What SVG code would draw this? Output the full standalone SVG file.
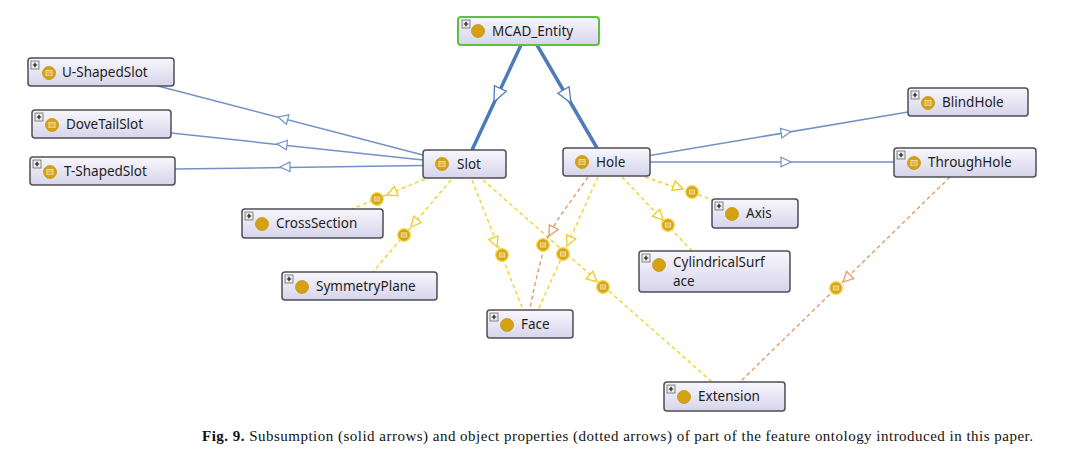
<svg xmlns="http://www.w3.org/2000/svg" xmlns:xlink="http://www.w3.org/1999/xlink" width="1067" height="465" viewBox="0 0 1067 465">
<style>
.node rect.box{fill:url(#nodeFill);stroke:#4e4e55;stroke-width:1.5}
.node.root rect.box{stroke:#5cc23a;stroke-width:2}
.lbl{font-family:"Noto Sans","Liberation Sans",sans-serif;font-size:13.5px;fill:#1e1e22}
.sub{fill:none;stroke:#7192c4;stroke-width:1.5}
.subT{fill:none;stroke:#4d7bb9;stroke-width:3.5}
.prop{fill:none;stroke:#f3d22d;stroke-width:1.4;stroke-dasharray:4 3}
.propO{fill:none;stroke:#e29b68;stroke-width:1.4;stroke-dasharray:4 3}
.triS{fill:#ffffff;stroke:#7192c4;stroke-width:1.2}
.triY{fill:#ffffff;stroke:#f0cc20;stroke-width:1.3}
.triO{fill:#ffffff;stroke:#e29b68;stroke-width:1.3}
.cap{font-family:"Liberation Serif",serif;font-size:15px;fill:#111}
</style>
<defs>
<linearGradient id="nodeFill" x1="0" y1="0" x2="0" y2="1">
<stop offset="0" stop-color="#f8f7fd"/>
<stop offset="1" stop-color="#d6d4ea"/>
</linearGradient>
<g id="plus">
<rect x="0" y="0" width="8" height="8" fill="#ececec" stroke="#6a6a6a" stroke-width="0.8"/>
<path d="M1.8,4 H6.2 M4,1.8 V6.2" stroke="#111" stroke-width="1.2"/>
</g>
<g id="cls">
<circle r="6.5" fill="#d3a112" stroke="#c69410" stroke-width="0.8"/>
</g>
<g id="eqcls">
<circle r="6.5" fill="#d3a112" stroke="#c69410" stroke-width="0.8"/>
<rect x="-3.5" y="-3" width="7" height="6" fill="#f2dc98"/>
<path d="M-2.5,-1.2 H2.5 M-2.5,0.3 H2.5 M-2.5,1.8 H2.5" stroke="#c99a1c" stroke-width="0.8"/>
</g>
<g id="pIcon">
<circle r="6.3" fill="#d5a316" stroke="#f4d94a" stroke-width="1.3"/>
<rect x="-3.2" y="-2.6" width="6.4" height="5.2" fill="#f2dc98"/>
<path d="M-2.2,-0.9 H2.2 M-2.2,0.9 H2.2" stroke="#c99a1c" stroke-width="0.7"/>
</g>
<polygon id="triSmall" points="0,0 -10,-4.8 -10,4.8"/>
<polygon id="triBig" points="0,0 -15,-6.5 -15,6.5"/>
<polygon id="triP" points="0,0 -10,-5 -10,5"/>
</defs>
<rect width="1067" height="465" fill="#ffffff"/>

<g id="connectors">
<path class="subT" d="M521,45 L472,150"/>
<path class="subT" d="M537,45 L597,148"/>
<path class="sub" d="M423,155 L158,86"/>
<path class="sub" d="M423,160 L171,133"/>
<path class="sub" d="M423,165.6 L175,169"/>
<path class="sub" d="M650,155.5 L908,112"/>
<path class="sub" d="M650,162 L894,162"/>
<use href="#triBig" class="triS" transform="translate(494,102) rotate(115)" style="stroke:#4d7bb9;stroke-width:1.3"/>
<use href="#triBig" class="triS" transform="translate(571,103) rotate(59.8)" style="stroke:#4d7bb9;stroke-width:1.3"/>
<use href="#triSmall" class="triS" transform="translate(278,117) rotate(194.5)"/>
<use href="#triSmall" class="triS" transform="translate(277,144) rotate(186.1)"/>
<use href="#triSmall" class="triS" transform="translate(280,167) rotate(178.8)"/>
<use href="#triSmall" class="triS" transform="translate(791,131.5) rotate(-9.6)"/>
<use href="#triSmall" class="triS" transform="translate(791,162) rotate(0)"/>

<path class="prop" d="M425,179 L352,209"/>
<path class="prop" d="M451,180 L373,272"/>
<path class="prop" d="M472,180 L523,310"/>
<path class="prop" d="M483,180 L712,382"/>
<path class="propO" d="M588,177 C570,203 549,228 544,248 C539,268 533,290 530,310"/>
<path class="prop" d="M598,177 L538,310"/>
<path class="prop" d="M645,177 L713,200"/>
<path class="prop" d="M622,177 L692,251"/>
<path class="propO" d="M950,177 L740,382"/>

<use href="#triP" class="triY" transform="translate(387,195) rotate(157.7)"/>
<use href="#triP" class="triY" transform="translate(411,227) rotate(130.3)"/>
<use href="#triP" class="triY" transform="translate(497,247) rotate(68.6)"/>
<use href="#triP" class="triY" transform="translate(597,281.7) rotate(41.4)"/>
<use href="#triP" class="triO" transform="translate(549,236) rotate(118)"/>
<use href="#triP" class="triY" transform="translate(567,246) rotate(114.3)"/>
<use href="#triP" class="triY" transform="translate(683,189) rotate(19.4)"/>
<use href="#triP" class="triY" transform="translate(663,220) rotate(46.6)"/>
<use href="#triP" class="triO" transform="translate(843,282) rotate(135.7)"/>

<use href="#pIcon" x="377" y="199"/>
<use href="#pIcon" x="404" y="235"/>
<use href="#pIcon" x="502" y="255"/>
<use href="#pIcon" x="603" y="287"/>
<use href="#pIcon" x="543" y="245"/>
<use href="#pIcon" x="563" y="254"/>
<use href="#pIcon" x="692" y="192"/>
<use href="#pIcon" x="668" y="225"/>
<use href="#pIcon" x="836" y="288"/>
</g>

<g id="MCAD_Entity" class="node root">
<rect class="box" x="458" y="17" width="141" height="28" rx="3"/>
<use href="#plus" x="462" y="20"/>
<use href="#cls" x="478" y="31"/>
<text class="lbl" x="492" y="36">MCAD_Entity</text>
</g>
<g id="U-ShapedSlot" class="node">
<rect class="box" x="28" y="58" width="146" height="28" rx="3"/>
<use href="#plus" x="31" y="61"/>
<use href="#eqcls" x="49" y="73"/>
<text class="lbl" x="62" y="77">U-ShapedSlot</text>
</g>
<g id="DoveTailSlot" class="node">
<rect class="box" x="32" y="110" width="139" height="28" rx="3"/>
<use href="#plus" x="35" y="113"/>
<use href="#eqcls" x="52" y="125"/>
<text class="lbl" x="66" y="129">DoveTailSlot</text>
</g>
<g id="T-ShapedSlot" class="node">
<rect class="box" x="30" y="157" width="145" height="28" rx="3"/>
<use href="#plus" x="33" y="160"/>
<use href="#eqcls" x="50" y="172"/>
<text class="lbl" x="64" y="176">T-ShapedSlot</text>
</g>
<g id="Slot" class="node">
<rect class="box" x="423" y="150" width="83" height="28" rx="3"/>
<use href="#eqcls" x="442" y="164"/>
<text class="lbl" x="457" y="169">Slot</text>
</g>
<g id="Hole" class="node">
<rect class="box" x="563" y="148" width="87" height="28" rx="3"/>
<use href="#eqcls" x="582" y="162"/>
<text class="lbl" x="596" y="167">Hole</text>
</g>
<g id="BlindHole" class="node">
<rect class="box" x="908" y="88" width="120" height="28" rx="3"/>
<use href="#plus" x="911" y="91"/>
<use href="#eqcls" x="928" y="103"/>
<text class="lbl" x="942" y="107">BlindHole</text>
</g>
<g id="ThroughHole" class="node">
<rect class="box" x="894" y="148" width="142" height="29" rx="3"/>
<use href="#plus" x="897" y="151"/>
<use href="#eqcls" x="914" y="163"/>
<text class="lbl" x="928" y="167">ThroughHole</text>
</g>
<g id="CrossSection" class="node">
<rect class="box" x="242" y="209" width="141" height="29" rx="3"/>
<use href="#plus" x="245" y="212"/>
<use href="#cls" x="262" y="224"/>
<text class="lbl" x="276" y="228">CrossSection</text>
</g>
<g id="SymmetryPlane" class="node">
<rect class="box" x="282" y="272" width="155" height="28" rx="3"/>
<use href="#plus" x="285" y="275"/>
<use href="#cls" x="302" y="287"/>
<text class="lbl" x="316" y="291">SymmetryPlane</text>
</g>
<g id="Face" class="node">
<rect class="box" x="487" y="310" width="86" height="28" rx="3"/>
<use href="#plus" x="490" y="313"/>
<use href="#cls" x="507" y="325"/>
<text class="lbl" x="521" y="329">Face</text>
</g>
<g id="Axis" class="node">
<rect class="box" x="712" y="199" width="86" height="29" rx="3"/>
<use href="#plus" x="715" y="202"/>
<use href="#cls" x="732" y="214"/>
<text class="lbl" x="746" y="218">Axis</text>
</g>
<g id="CylindricalSurface" class="node">
<rect class="box" x="639" y="251" width="151" height="41" rx="3"/>
<use href="#plus" x="642" y="254"/>
<use href="#cls" x="659" y="265"/>
<text class="lbl" x="673" y="267">CylindricalSurf</text>
<text class="lbl" x="673" y="285.5">ace</text>
</g>
<g id="Extension" class="node">
<rect class="box" x="664" y="382" width="121" height="29" rx="3"/>
<use href="#plus" x="667" y="385"/>
<use href="#cls" x="684" y="397"/>
<text class="lbl" x="698" y="401">Extension</text>
</g>

<text class="cap" x="202" y="441" textLength="831" lengthAdjust="spacing"><tspan font-weight="bold">Fig. 9.</tspan> Subsumption (solid arrows) and object properties (dotted arrows) of part of the feature ontology introduced in this paper.</text>
</svg>
